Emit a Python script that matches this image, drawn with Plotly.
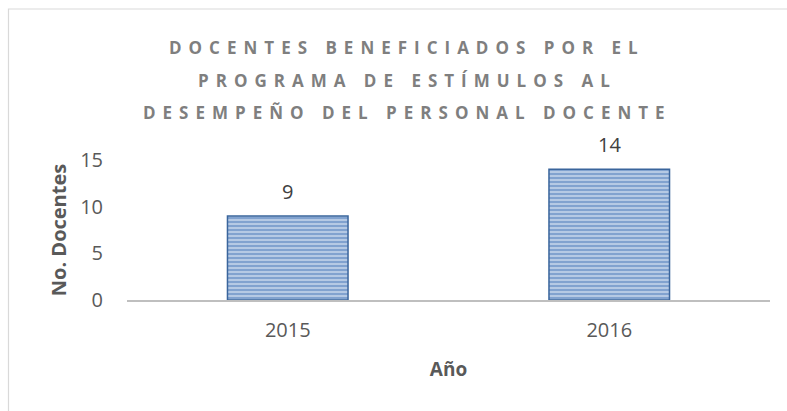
import plotly.graph_objects as go

# Docentes beneficiados por año
years = ["2015", "2016"]
docentes = [9, 14]
y_ticks = [0, 5, 10, 15]

title_lines = [
    "DOCENTES BENEFICIADOS POR EL",
    "PROGRAMA DE ESTÍMULOS AL",
    "DESEMPEÑO DEL PERSONAL DOCENTE",
]

W, H = 787, 411
M_L, M_R, M_T, M_B = 127, 17, 160, 111
plot_h = H - M_T - M_B
plot_w = W - M_L - M_R

fig = go.Figure()
fig.add_trace(go.Bar(
    x=years,
    y=docentes,
    width=0.375,
    marker=dict(
        color="#4f81bd",
        line=dict(color="#3a659c", width=1.5),
        pattern=dict(shape="-", fgcolor="#3f72b3", bgcolor="#c2d3ea",
                     size=4, solidity=0.6),
    ),
    hoverinfo="skip",
))

# value labels above each bar (category serial positions)
for i, v in enumerate(docentes):
    fig.add_annotation(x=i, y=v, xref="x", yref="y", text=str(v),
                       showarrow=False, yanchor="middle", yshift=25,
                       font=dict(family="Open Sans", size=20, color="#404040"))

# chart title, one annotation per line
title_px_y = [47, 80, 112]
title_center_x = 407
for line, py in zip(title_lines, title_px_y):
    fig.add_annotation(
        x=(title_center_x - M_L) / plot_w, y=(H - M_B - py) / plot_h,
        xref="paper", yref="paper", text="<b>" + line + "</b>",
        showarrow=False, xanchor="center", yanchor="middle",
        font=dict(family="Open Sans", size=17, color="#7f7f7f"),
    )

# outer chart border
fig.add_shape(type="rect", xref="paper", yref="paper",
              x0=(8.5 - M_L) / plot_w, x1=(W + 5 - M_L) / plot_w,
              y0=(H - M_B - (H + 5)) / plot_h, y1=(H - M_B - 9) / plot_h,
              line=dict(color="#d9d9d9", width=1.2), fillcolor="rgba(0,0,0,0)",
              layer="below")

fig.update_layout(
    width=W, height=H,
    margin=dict(l=M_L, r=M_R, t=M_T, b=M_B, pad=0),
    paper_bgcolor="white", plot_bgcolor="white",
    showlegend=False,
    font=dict(family="Open Sans", color="#595959", size=20),
)
fig.update_xaxes(
    type="category", categoryorder="array", categoryarray=years,
    range=[-0.5, 1.5],
    showgrid=False, showline=True, linecolor="#bfbfbf", linewidth=2,
    ticks="outside", ticklen=11, tickcolor="rgba(0,0,0,0)",
    tickfont=dict(size=20, color="#595959"),
    title=dict(text="<b>Año</b>", font=dict(size=19, color="#595959"), standoff=21),
    fixedrange=True,
)
fig.update_yaxes(
    range=[0, 15], tickvals=y_ticks, showgrid=False, zeroline=False,
    showline=False, ticks="outside", ticklen=19, tickcolor="rgba(0,0,0,0)",
    tickfont=dict(size=20, color="#595959"),
    title=dict(text="<b>No. Docentes</b>", font=dict(size=20, color="#595959"), standoff=8),
    fixedrange=True,
)

# widen letter spacing of the title lines
post = """
var gd = document.getElementById('{plot_id}');
gd.querySelectorAll('.annotation-text').forEach(function(t){
  var s = t.textContent;
  if (s === s.toUpperCase() && s.length > 10) {
    t.setAttribute('letter-spacing', '7px');
  }
});
"""

fig.write_html("out.html", post_script=post)
